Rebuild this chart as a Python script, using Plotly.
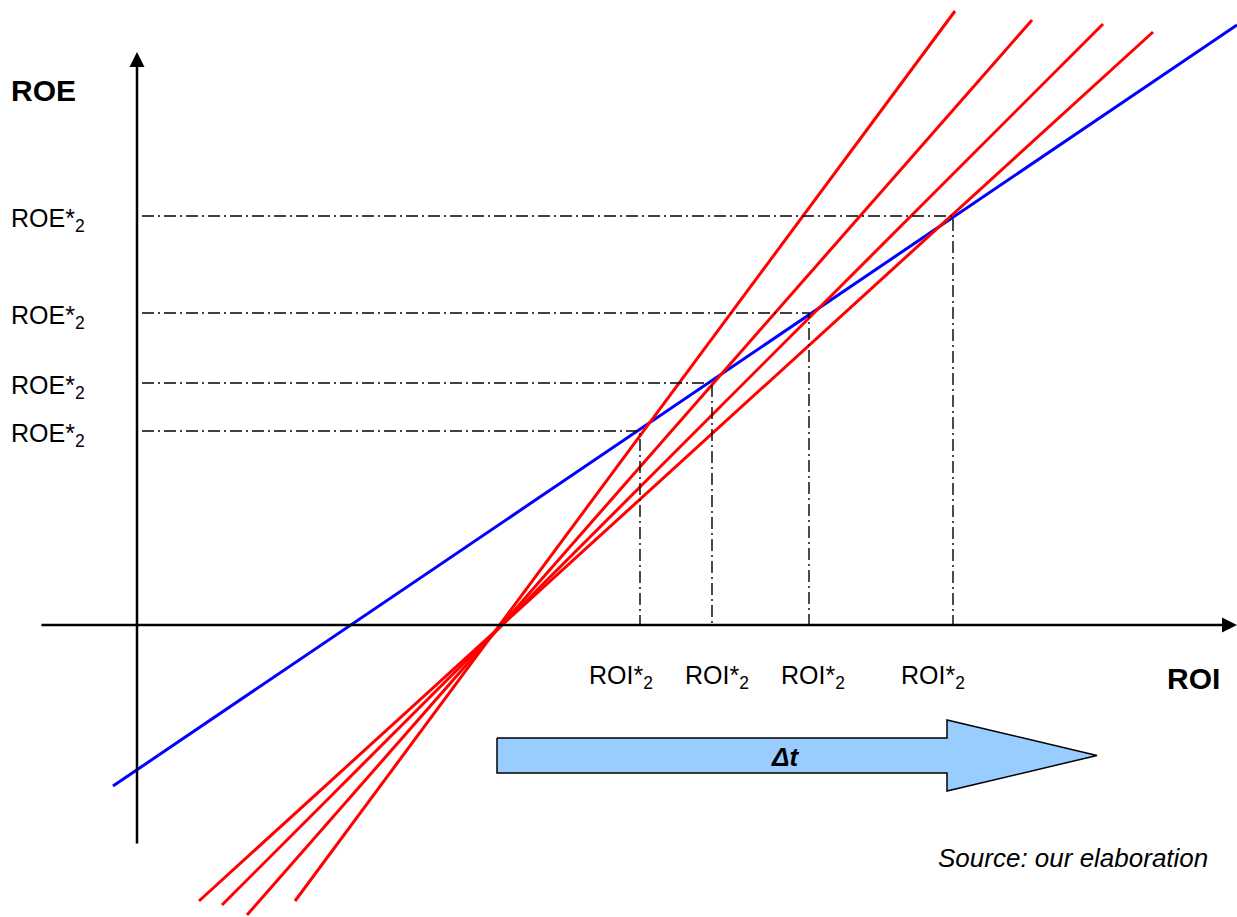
import plotly.graph_objects as go

# ---- data (ROI on x, ROE on y; origin at the axes' crossing) ----
roi_star = [503, 575, 672, 816]          # ROI*2 equilibrium points
roe_star = [194, 242, 312, 409]          # ROE*2 equilibrium points
blue_x = [-24, 1100]
blue_y = [-161, 600]
red_x0 = [158, 110, 85, 62]
red_y0 = [-276, -290, -280, -276]
red_x1 = [818, 895, 966, 1016]
red_y1 = [614, 605, 601, 593]
roe_labels = ["ROE*<sub>2</sub>"] * 4
roi_labels = ["ROI*<sub>2</sub>"] * 4
roi_label_x = [484, 580, 676, 796]

FONT = "Liberation Sans, Arial, sans-serif"
X_RANGE = [-137, 1100]
Y_RANGE = [-292, 625]

fig = go.Figure()

# blue line
fig.add_trace(go.Scatter(x=blue_x, y=blue_y, mode="lines",
                         line=dict(color="#0000FF", width=3), hoverinfo="skip"))
# red lines
for x0, y0, x1, y1 in zip(red_x0, red_y0, red_x1, red_y1):
    fig.add_trace(go.Scatter(x=[x0, x1], y=[y0, y1], mode="lines",
                             line=dict(color="#FF0000", width=3), hoverinfo="skip"))

# dash-dot guides
dash = "12px,4px,2px,4px"
for rx, ry in zip(roi_star, roe_star):
    fig.add_trace(go.Scatter(x=[5, rx, rx], y=[ry, ry, 0], mode="lines",
                             line=dict(color="black", width=1.4, dash=dash),
                             hoverinfo="skip"))

# big Δt arrow
L, N, T = 360, 810, 960
c, h, H = -130.5, 17.5, 35.5
fig.add_trace(go.Scatter(
    x=[L, N, N, T, N, N, L, L],
    y=[c + h, c + h, c + H, c, c - H, c - h, c - h, c + h],
    mode="lines", fill="toself", fillcolor="#99CCFF",
    line=dict(color="black", width=1.5), hoverinfo="skip"))

ann = []
# axes with arrowheads
ann.append(dict(x=1100, y=0, ax=-97, ay=0, xref="x", yref="y", axref="x", ayref="y",
                text="", showarrow=True, arrowhead=2, arrowsize=1.2, arrowwidth=2.5,
                arrowcolor="black", standoff=0, startstandoff=0))
ann.append(dict(x=0, y=573, ax=0, ay=-220, xref="x", yref="y", axref="x", ayref="y",
                text="", showarrow=True, arrowhead=2, arrowsize=1.2, arrowwidth=2.5,
                arrowcolor="black", standoff=0, startstandoff=0))

# axis titles
ann.append(dict(x=-128, y=535, text="<b>ROE</b>", showarrow=False, xanchor="left",
                yanchor="middle", font=dict(family=FONT, size=30, color="black")))
ann.append(dict(x=1028, y=-53, text="<b>ROI</b>", showarrow=False, xanchor="left",
                yanchor="middle", font=dict(family=FONT, size=30, color="black")))

# ROE*2 labels
for ry, t in zip(roe_star, roe_labels):
    ann.append(dict(x=-128, y=ry - 4, text=t, showarrow=False, xanchor="left",
                    yanchor="middle", font=dict(family=FONT, size=25, color="black")))
# ROI*2 labels
for lx, t in zip(roi_label_x, roi_labels):
    ann.append(dict(x=lx, y=-52, text=t, showarrow=False, xanchor="center",
                    yanchor="middle", font=dict(family=FONT, size=25, color="black")))

ann.append(dict(x=648, y=-132, text="<b><i>Δt</i></b>", showarrow=False,
                xanchor="center", yanchor="middle",
                font=dict(family=FONT, size=26, color="black")))
ann.append(dict(x=1073, y=-233, text="<i>Source: our elaboration</i>", showarrow=False,
                xanchor="right", yanchor="middle",
                font=dict(family=FONT, size=26, color="black")))

fig.update_layout(
    width=1237, height=917, autosize=False,
    margin=dict(l=0, r=0, t=0, b=0, pad=0),
    paper_bgcolor="white", plot_bgcolor="white",
    showlegend=False, annotations=ann,
    xaxis=dict(range=X_RANGE, visible=False, fixedrange=True),
    yaxis=dict(range=Y_RANGE, visible=False, fixedrange=True),
)

fig.write_html("out.html", config={"displayModeBar": False},
               post_script="document.body.style.margin='0';")
